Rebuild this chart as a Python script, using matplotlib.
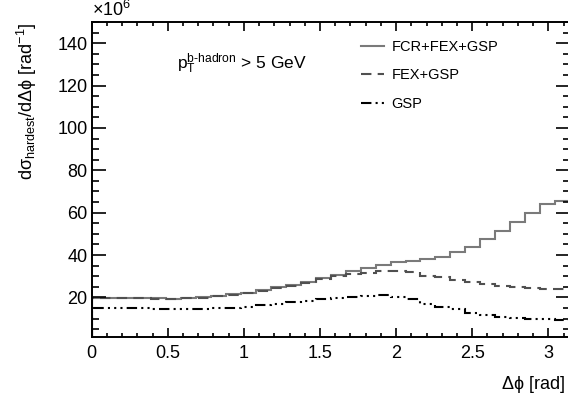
import numpy as np
import matplotlib
matplotlib.use("Agg")
import matplotlib.pyplot as plt
from matplotlib.ticker import MultipleLocator

plt.rcParams['font.family'] = ['Liberation Sans', 'DejaVu Sans']
plt.rcParams['mathtext.fontset'] = 'custom'
plt.rcParams['mathtext.rm'] = 'Liberation Sans'
plt.rcParams['mathtext.it'] = 'Liberation Sans'
plt.rcParams['mathtext.sf'] = 'Liberation Sans'
plt.rcParams['mathtext.fallback'] = 'stixsans'

# 32 bins in delta phi from 0 to pi, values in units of 1e6
n_bins = 32
fcr_fex_gsp = [19.8, 19.8, 19.7, 19.7, 19.5, 19.4, 19.6, 20.0, 20.6, 21.4,
               22.3, 23.5, 24.7, 26.0, 27.4, 29.0, 30.7, 32.3, 33.8, 35.3,
               36.5, 37.4, 38.0, 39.3, 41.3, 44.0, 47.4, 51.3, 55.4, 60.0,
               64.0, 65.7]
fex_gsp = [19.7, 19.7, 19.6, 19.6, 19.4, 19.3, 19.5, 19.9, 20.5, 21.2,
           22.1, 23.2, 24.4, 25.6, 27.0, 28.5, 29.9, 30.9, 31.7, 32.4,
           32.6, 32.0, 30.2, 29.4, 28.2, 27.3, 26.1, 25.4, 24.9, 24.6,
           24.1, 23.9]
gsp = [15.0, 15.0, 14.9, 14.9, 14.3, 14.3, 14.5, 14.6, 14.8, 15.2,
       15.7, 16.2, 16.7, 17.6, 18.2, 19.1, 19.9, 20.4, 20.8, 21.2,
       20.3, 19.1, 16.9, 15.5, 14.5, 12.7, 11.7, 10.9, 10.2, 9.9,
       9.6, 9.2]
labels = ['FCR+FEX+GSP', 'FEX+GSP', 'GSP']

edges = np.linspace(0, np.pi, n_bins + 1)

fig = plt.figure(figsize=(5.68, 4.0), dpi=100)
ax = fig.add_axes([0.1614, 0.158, 0.842, 0.787])

ax.stairs(fcr_fex_gsp, edges, color='#7a7a7a', lw=1.5, label=labels[0])
ax.stairs(fex_gsp, edges, color='#505050', lw=1.5, linestyle=(0, (5, 3)),
          label=labels[1])
ax.stairs(gsp, edges, color='black', lw=1.5,
          linestyle=(0, (5, 2, 1, 2, 1, 2, 1, 2)), label=labels[2])

ax.set_xlim(0, np.pi)
ax.set_ylim(1.4, 150)

ax.xaxis.set_minor_locator(MultipleLocator(0.1))
ax.yaxis.set_minor_locator(MultipleLocator(5))
ax.set_xticks([0, 0.5, 1, 1.5, 2, 2.5, 3])
ax.set_xticklabels(['0', '0.5', '1', '1.5', '2', '2.5', '3'])
ax.set_yticks([20, 40, 60, 80, 100, 120, 140])

ax.tick_params(axis='both', which='both', direction='in', top=True,
               right=True, labelsize=13, width=1.2)
ax.tick_params(axis='x', which='major', length=6.5, pad=6)
ax.tick_params(axis='x', which='minor', length=3)
ax.tick_params(axis='y', which='major', length=10, pad=3)
ax.tick_params(axis='y', which='minor', length=5)
for s in ax.spines.values():
    s.set_linewidth(1.4)

ax.set_xlabel(r'$\Delta\phi$ [rad]', fontsize=13, ha='right', va='top')
ax.xaxis.set_label_coords(0.99, -0.118)
ax.set_ylabel(r'd$\sigma_{\mathrm{hardest}}$/d$\Delta\phi$ [rad$^{-1}$]',
              fontsize=13, loc='top', labelpad=13)

ax.text(0, 1.005, r'$\times$10$^{6}$', transform=ax.transAxes,
        fontsize=13, ha='left', va='bottom')
ax.text(0.178, 0.85, r'p$_{\mathrm{T}}^{\mathrm{b\text{-}hadron}}$ > 5 GeV',
        transform=ax.transAxes, fontsize=12.5, ha='left', va='baseline')

ax.legend(loc='upper left', bbox_to_anchor=(0.535, 0.985), frameon=False,
          fontsize=10.5, handlelength=1.6, handletextpad=0.5,
          labelspacing=1.0)

fig.savefig('out.png', dpi=100)
